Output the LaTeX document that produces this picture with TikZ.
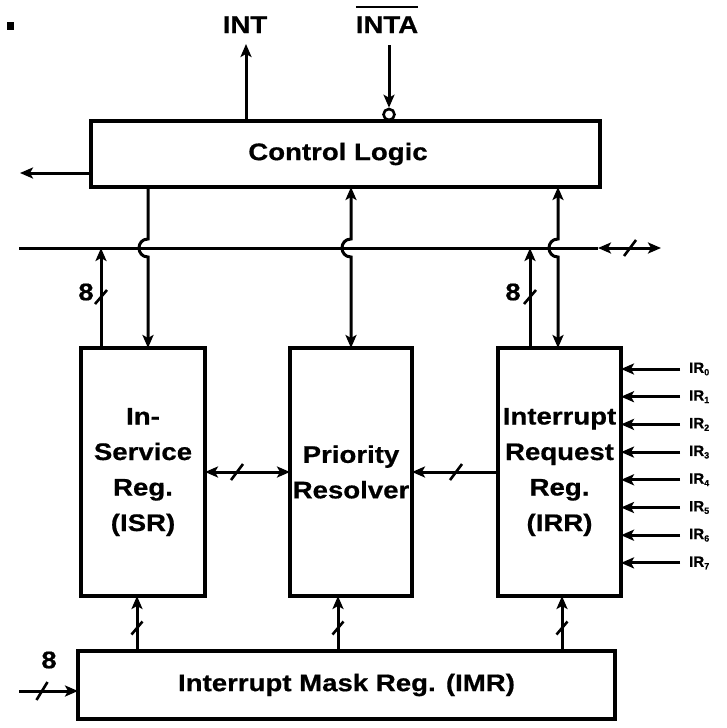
\documentclass[tikz,border=0pt]{standalone}
\usepackage{fontspec}
\newfontfamily\dfont{Liberation Sans}[FakeStretch=1.15,BoldFeatures={FakeBold=0.6}]
\newfontfamily\irfont{Liberation Sans}[BoldFeatures={FakeBold=0.6}]
\usetikzlibrary{arrows.meta}
\begin{document}
\begin{tikzpicture}[x=1pt,y=-1pt,
 box/.style={draw,line width=3.2pt,inner sep=0pt,outer sep=0pt,align=center,
   font=\dfont\bfseries\fontsize{24}{35.5}\selectfont},
 lbl/.style={font=\dfont\bfseries\fontsize{24}{28}\selectfont,inner sep=0pt},
 irl/.style={font=\irfont\bfseries\fontsize{15}{15}\selectfont,inner sep=0pt,anchor=west},
 wire/.style={line width=3pt},
 arr/.style={-{Stealth[length=13pt,width=11pt,inset=3pt]}},
 darr/.style={{Stealth[length=13pt,width=11pt,inset=3pt]}-{Stealth[length=13pt,width=11pt,inset=3pt]}},
 bitslash/.style={line width=2.6pt},
]
\path[use as bounding box] (0,0) rectangle (726,728);

% small bullet
\fill (7,22) rectangle (14,30);

% boxes
\node[box,minimum width=509pt,minimum height=66pt] (ctrl) at (345.5,154) {};
\node[lbl] (ctrltxt) at (338,154) {Control Logic};
\node[box,minimum width=124pt,minimum height=248pt] (isr) at (143,472) {In-\\Service\\Reg.\\(ISR)};
\node[box,minimum width=122pt,minimum height=248pt] (pr) at (351,472) {Priority\\Resolver};
\node[box,minimum width=123pt,minimum height=248pt] (irr) at (559.5,472) {Interrupt\\Request\\Reg.\\(IRR)};
\node[box,minimum width=537pt,minimum height=68pt] (imr) at (346.5,685) {Interrupt Mask Reg. (IMR)};

% top signals
\node[lbl,anchor=base] (int) at (245,33) {INT};
\node[lbl,anchor=base] (inta) at (387,33) {\vbox{\hrule height 2.8pt\kern 8pt\hbox{INTA}}};
\coordinate (intb) at (246,121);
\coordinate (intt) at (246,44);
\draw[wire,arr] (intb) -- (intt);
\node[circle,draw,line width=2.6pt,fill=white,minimum size=11pt,inner sep=0pt] (bub) at (389,114.5) {};
\coordinate (intat) at (389,45);
\draw[wire,arr] (intat) -- (bub.north);
\coordinate (cl) at (20,173);
\draw[wire,arr] (ctrl.west |- cl) -- (cl);

% bus
\coordinate (bw) at (19,248);
\coordinate (bl) at (598,248);
\coordinate (be) at (661,248);
\draw[wire] (bw) -- (bl);
\draw[wire,darr] (bl) -- (be);
\coordinate (sb) at (630,248);
\draw[bitslash] (sb) ++(-6,8) -- ++(12,-16);

% ISR up to bus
\coordinate (u1b) at (101,348);
\coordinate (u1t) at (101,248);
\draw[wire,arr] (u1b) -- (u1t);
\coordinate (s1) at (101,297);
\draw[bitslash] (s1) ++(-6,7) -- ++(12,-14);
\node[lbl] (n8a) at (86,292) {8};

% control -> ISR with hop
\coordinate (d1t) at (148,187);
\coordinate (d1b) at (148,348);
\draw[wire,arr] (d1t) -- (148,239) .. controls (136,239) and (136,257) .. (148,257) -- (d1b);

% control <-> PR with hop
\draw[wire,darr] (ctrl.south -| pr) -- (351,239) .. controls (339,239) and (339,257) .. (351,257) -- (pr.north);

% IRR up to bus
\coordinate (u2b) at (530,348);
\coordinate (u2t) at (530,248);
\draw[wire,arr] (u2b) -- (u2t);
\coordinate (s2) at (530,297);
\draw[bitslash] (s2) ++(-6,7) -- ++(12,-14);
\node[lbl] (n8b) at (513,292) {8};

% control <-> IRR with hop
\coordinate (d3t) at (558,187);
\coordinate (d3b) at (558,348);
\draw[wire,darr] (d3t) -- (558,239) .. controls (546,239) and (546,257) .. (558,257) -- (d3b);

% ISR <-> PR, IRR -> PR
\draw[wire,darr] (isr.east) -- (pr.west);
\coordinate (s3) at (237,472);
\draw[bitslash] (s3) ++(-6,8) -- ++(12,-16);
\draw[wire,arr] (irr.west) -- (pr.east);
\coordinate (s4) at (456,472);
\draw[bitslash] (s4) ++(-6,8) -- ++(12,-16);

% IMR up arrows
\foreach \xx/\nm in {137/a,338/b,562/c}{
  \coordinate (m\nm b) at (\xx,651);
  \coordinate (m\nm t) at (\xx,596);
  \draw[wire,arr] (m\nm b) -- (m\nm t);
  \coordinate (ms\nm) at (\xx,628);
  \draw[bitslash] (ms\nm) ++(-5.5,6.5) -- ++(11,-13);
}

% IMR input
\coordinate (imin) at (19,691);
\draw[wire,arr] (imin) -- (imr.west |- imin);
\coordinate (s5) at (42,691);
\draw[bitslash] (s5) ++(-5.5,9) -- ++(11,-18);
\node[lbl] (n8c) at (49,660) {8};

% IR inputs
\foreach \i in {0,...,7}{
  \pgfmathsetmacro\yy{369+27.7*\i}
  \coordinate (ir\i) at (680,\yy);
  \draw[wire,arr] (ir\i) -- (irr.east |- ir\i);
  \node[irl] (irl\i) at (689,\yy) {IR\raisebox{-2.5pt}{\fontsize{9}{9}\selectfont\i}};
}
\end{tikzpicture}
\end{document}
